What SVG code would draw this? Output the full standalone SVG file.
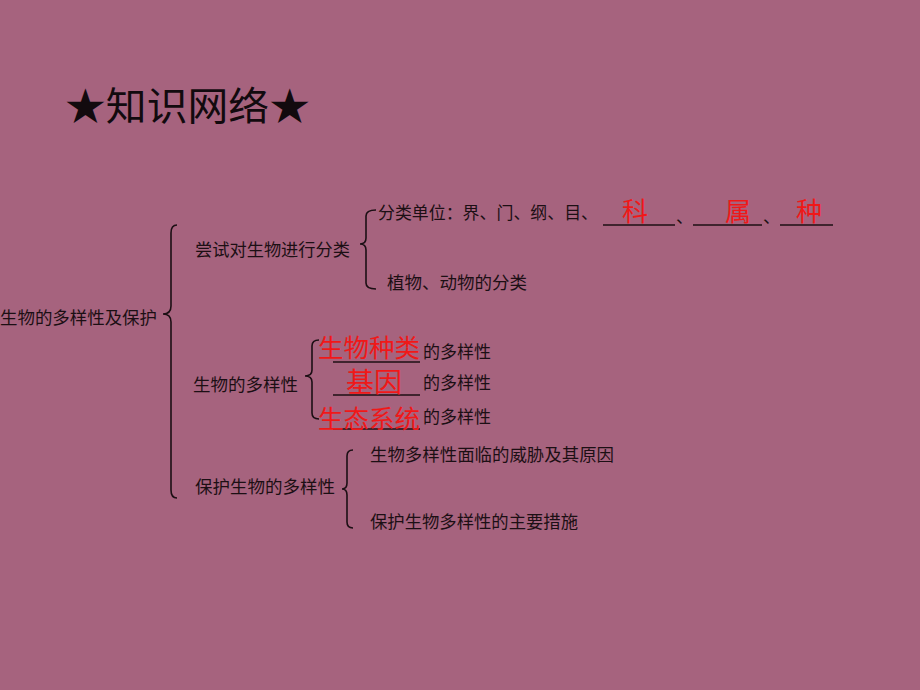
<svg xmlns="http://www.w3.org/2000/svg" width="920" height="690" viewBox="0 0 920 690">
<style>
.t{font-family:"Noto Sans CJK SC","Noto Sans",sans-serif;fill:#1c0f14;font-size:17.3px}
.r{font-family:"Noto Sans CJK SC","Noto Sans",sans-serif;fill:#f01818}
.title{font-family:"Noto Sans CJK SC","Noto Sans",sans-serif;fill:#120a0e;font-size:39px}
.brace{fill:none;stroke:#1c0f14;stroke-width:1.6}
.ul{stroke:#1c0f14;stroke-width:1.6}
</style>
<rect width="920" height="690" fill="#a6637e"/>
<g id="title"><text class="title" x="65" y="120" textLength="245" lengthAdjust="spacingAndGlyphs">★知识网络★</text></g>
<g id="root"><text class="t" x="0" y="324" textLength="157" lengthAdjust="spacingAndGlyphs">生物的多样性及保护</text></g>
<g id="classify"><text class="t" x="195" y="256" textLength="155" lengthAdjust="spacingAndGlyphs">尝试对生物进行分类</text></g>
<g id="units">
<text class="t" x="378" y="219" textLength="220" lengthAdjust="spacingAndGlyphs">分类单位：界、门、纲、目、</text>
<line class="ul" x1="603" y1="225" x2="675" y2="225"/>
<text class="r" x="622" y="221" font-size="26">科</text>
<text class="t" x="676" y="223">、</text>
<line class="ul" x1="693" y1="225" x2="762" y2="225"/>
<text class="r" x="725" y="221" font-size="26">属</text>
<text class="t" x="763" y="223">、</text>
<line class="ul" x1="780" y1="225" x2="833" y2="225"/>
<text class="r" x="796" y="221" font-size="26">种</text>
</g>
<g id="plants"><text class="t" x="387" y="289" textLength="140" lengthAdjust="spacingAndGlyphs">植物、动物的分类</text></g>
<g id="diversity"><text class="t" x="193" y="391" textLength="105" lengthAdjust="spacingAndGlyphs">生物的多样性</text></g>
<g id="species">
<line class="ul" x1="333" y1="362" x2="420" y2="362"/>
<text class="r" x="318" y="357" font-size="25" textLength="102" lengthAdjust="spacingAndGlyphs">生物种类</text>
<text class="t" x="423" y="358" textLength="68" lengthAdjust="spacingAndGlyphs">的多样性</text>
</g>
<g id="gene">
<line class="ul" x1="333" y1="395" x2="420" y2="395"/>
<text class="r" x="346" y="392" font-size="27" textLength="56" lengthAdjust="spacingAndGlyphs">基因</text>
<text class="t" x="423" y="389" textLength="68" lengthAdjust="spacingAndGlyphs">的多样性</text>
</g>
<g id="ecosystem">
<line class="ul" x1="333" y1="429" x2="420" y2="429"/>
<text class="r" x="318" y="428" font-size="25" textLength="102" lengthAdjust="spacingAndGlyphs">生态系统</text>
<text class="t" x="423" y="423" textLength="68" lengthAdjust="spacingAndGlyphs">的多样性</text>
</g>
<g id="protect"><text class="t" x="195" y="493" textLength="140" lengthAdjust="spacingAndGlyphs">保护生物的多样性</text></g>
<g id="threats"><text class="t" x="370" y="461" textLength="244" lengthAdjust="spacingAndGlyphs">生物多样性面临的威胁及其原因</text></g>
<g id="measures"><text class="t" x="370" y="528" textLength="208" lengthAdjust="spacingAndGlyphs">保护生物多样性的主要措施</text></g>
<g id="connectors">
<path class="brace" d="M177 225 Q171 225 171 233 L171 306 Q171 314 163 314 Q171 314 171 322 L171 490 Q171 498 177 498"/>
<path class="brace" d="M376 210 Q366 210 366 216 L366 238 Q366 244 360 244 Q366 244 366 250 L366 283 Q366 289 376 289"/>
<path class="brace" d="M319 340 Q312 340 312 346 L312 370 Q312 376 305 376 Q312 376 312 382 L312 413 Q312 419 319 419"/>
<path class="brace" d="M353 450 Q347 450 347 456 L347 483 Q347 489 342 489 Q347 489 347 495 L347 522 Q347 528 353 528"/>
</g>
</svg>
